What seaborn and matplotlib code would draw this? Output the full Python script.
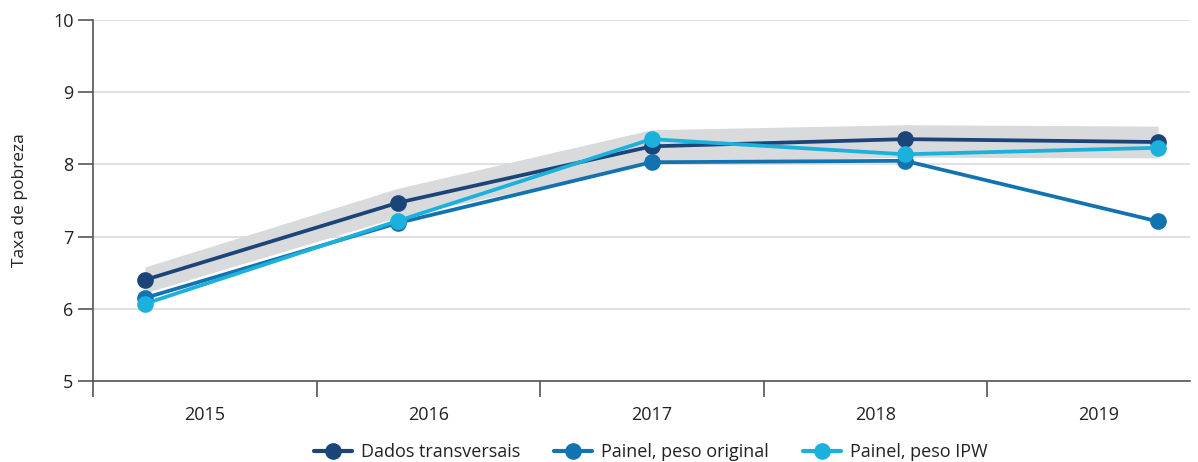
import matplotlib
matplotlib.use("Agg")
import matplotlib.pyplot as plt
from matplotlib.lines import Line2D
import seaborn as sns
import pandas as pd
import numpy as np

years = ["2015", "2016", "2017", "2018", "2019"]
dados = [6.40, 7.47, 8.25, 8.35, 8.31]
painel_orig = [6.15, 7.19, 8.03, 8.05, 7.21]
painel_ipw = [6.07, 7.22, 8.35, 8.14, 8.23]
ci_low = [6.22, 7.27, 8.02, 8.10, 8.09]
ci_high = [6.58, 7.67, 8.48, 8.55, 8.53]
series_names = ["Dados transversais", "Painel, peso original", "Painel, peso IPW"]
colors = ["#1b4478", "#1273b0", "#1cb1dc"]

sns.set_theme(style="white")
plt.rcParams['font.family'] = ['Open Sans', 'DejaVu Sans']

pos = np.arange(len(years))
df = pd.DataFrame({
    "pos": np.tile(pos, 3),
    "valor": dados + painel_orig + painel_ipw,
    "serie": np.repeat(series_names, len(years)),
})

W, H = 1198, 462
fig = plt.figure(figsize=(W / 100, H / 100), dpi=100)
ax = fig.add_axes([93 / W, 1 - 381 / H, (1190 - 93) / W, (381 - 20) / H])

ax.fill_between(pos, ci_low, ci_high, color="#d9dadb", lw=0, zorder=1)
sns.lineplot(data=df, x="pos", y="valor", hue="serie", hue_order=series_names,
             palette=colors, marker="o", markersize=12, linewidth=2.7,
             markeredgewidth=0, ax=ax, legend=False, zorder=3, sort=False)

ax.set_xlim(-0.205, 4.126)
ax.set_ylim(5, 10)
ax.set_yticks([5, 6, 7, 8, 9, 10])
ax.yaxis.grid(True, color="#dcdcdc", lw=1.2, zorder=0)
ax.set_axisbelow(True)
ax.set_xticks([])
ax.set_xlabel("")
ax.set_ylabel("Taxa de pobreza", fontsize=12.5, color="#222222", labelpad=18)
for s in ["top", "right"]:
    ax.spines[s].set_visible(False)
for s in ["left", "bottom"]:
    ax.spines[s].set_color("#555555")
    ax.spines[s].set_linewidth(1.2)
ax.tick_params(axis="y", length=11, width=1.2, color="#555555", pad=3,
               labelsize=13, labelcolor="#222222", left=True)

# category axis
ax2 = ax.twiny()
ax2.set_xlim(-0.5, 4.408)
ax2.xaxis.set_ticks_position("bottom")
ax2.xaxis.set_label_position("bottom")
for s in ax2.spines.values():
    s.set_visible(False)
ax2.set_xticks([-0.5, 0.5, 1.5, 2.5, 3.5])
ax2.set_xticklabels([])
ax2.set_xticks(pos, minor=True)
ax2.set_xticklabels(years, minor=True)
ax2.tick_params(axis="x", which="major", length=11.5, width=1.2, color="#555555",
                bottom=True, top=False)
ax2.tick_params(axis="x", which="minor", length=0, pad=18, labelsize=13,
                labelcolor="#222222", bottom=True, top=False)

handles = [Line2D([0], [0], color=c, lw=3, marker="o", markersize=12,
                  markeredgewidth=0) for c in colors]
fig.legend(handles, series_names, loc="center", bbox_to_anchor=(651 / W, 1 - 452 / H),
           ncol=3, frameon=False, handlelength=2.1, handletextpad=0.5,
           columnspacing=1.9, fontsize=13, labelcolor="#222222")

fig.savefig("out.png", dpi=100)
